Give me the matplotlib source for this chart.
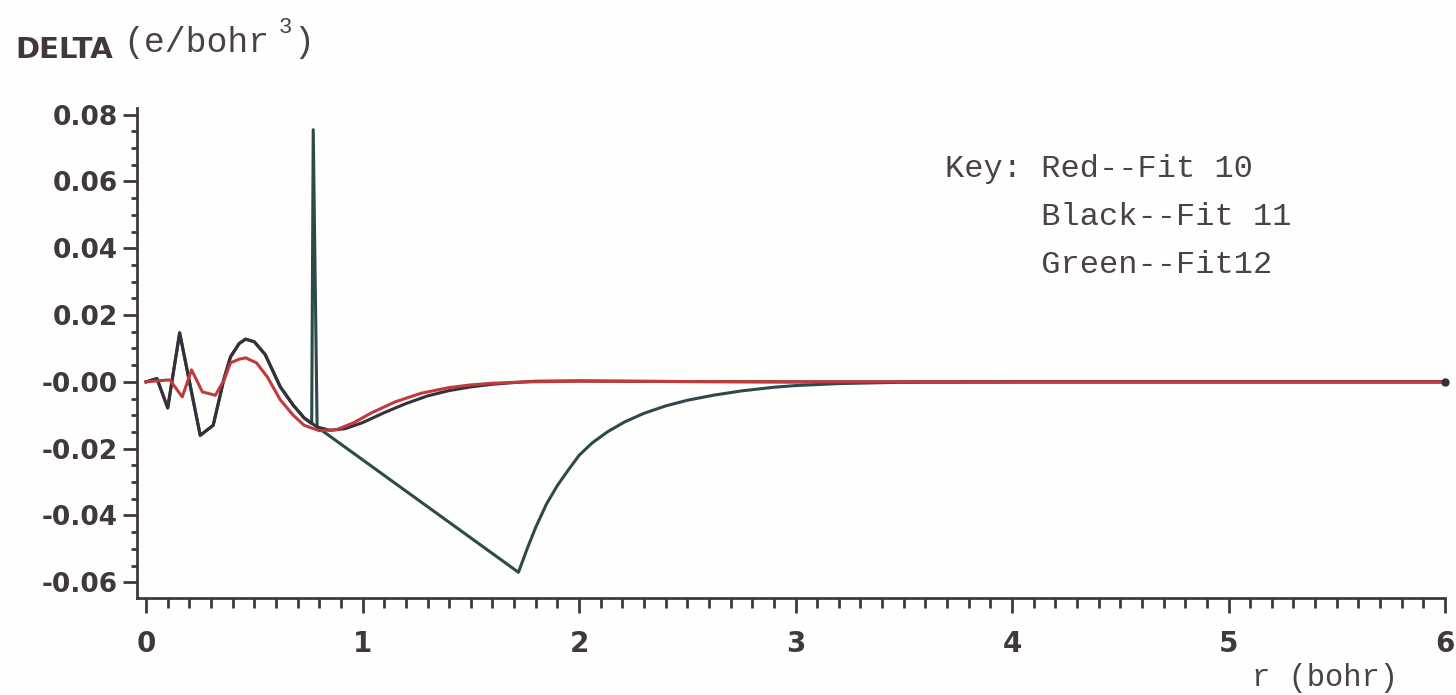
import matplotlib
matplotlib.use("Agg")
import matplotlib.pyplot as plt
from matplotlib.ticker import MultipleLocator, FixedLocator, FixedFormatter

W, H = 1456, 695

# ---------------- data ----------------
x_red = [0.0, 0.05, 0.11, 0.167, 0.21, 0.26, 0.32, 0.36, 0.39, 0.43, 0.46, 0.51, 0.56,
         0.62, 0.68, 0.73, 0.8, 0.88, 0.96, 1.04, 1.15, 1.27, 1.4, 1.5, 1.6, 1.75,
         2.0, 2.5, 3.0, 4.0, 5.0, 6.0]
y_red = [0.0, 0.0003, 0.0006, -0.0045, 0.0036, -0.003, -0.004, 0.0005, 0.0057, 0.0068,
         0.0072, 0.0057, 0.0015, -0.0054, -0.0100, -0.0130, -0.0146, -0.0143, -0.0122,
         -0.0093, -0.0060, -0.0034, -0.0017, -0.0009, -0.0004, 0.0, 0.0002, 0.0001,
         0.0, 0.0, 0.0, 0.0]

x_black = [0.0, 0.05, 0.1, 0.155, 0.25, 0.31, 0.36, 0.39, 0.43, 0.46, 0.5, 0.55,
           0.62, 0.68, 0.73, 0.79, 0.85, 0.92, 1.0, 1.1, 1.2, 1.3, 1.4, 1.5, 1.6,
           1.7, 1.8, 2.0, 2.5, 3.0, 4.0, 5.0, 6.0]
y_black = [0.0, 0.001, -0.0078, 0.0147, -0.016, -0.013, 0.001, 0.0075, 0.0115,
           0.0128, 0.0120, 0.0082, -0.0015, -0.0070, -0.0108, -0.0135, -0.0145,
           -0.0140, -0.0122, -0.0092, -0.0065, -0.0042, -0.0026, -0.0015, -0.0007,
           -0.0002, 0.0002, 0.0003, 0.0001, 0.0, 0.0, 0.0, 0.0]

x_green = [0.0, 0.05, 0.1, 0.155, 0.25, 0.31, 0.36, 0.39, 0.43, 0.46, 0.5, 0.55,
           0.62, 0.68, 0.73, 0.765, 0.772, 0.79, 1.72, 1.76, 1.80, 1.85, 1.9, 1.95,
           2.0, 2.06, 2.13, 2.21, 2.3, 2.4, 2.5, 2.62, 2.75, 2.9, 3.0, 3.2, 3.5,
           4.0, 5.0, 6.0]
y_green = [0.0, 0.001, -0.0078, 0.0147, -0.016, -0.013, 0.001, 0.0075, 0.0115,
           0.0128, 0.0120, 0.0082, -0.0015, -0.0070, -0.0108, -0.0125, 0.0755,
           -0.0135, -0.0570, -0.0500, -0.0435, -0.0365, -0.0310, -0.0264, -0.0220,
           -0.0183, -0.0150, -0.0120, -0.0094, -0.0072, -0.0055, -0.0040, -0.0027,
           -0.0016, -0.0011, -0.0005, -0.0001, 0.0, 0.0, 0.0]

y_ticks = [0.08, 0.06, 0.04, 0.02, 0.0, -0.02, -0.04, -0.06]
y_ticklabels = ["0.08", "0.06", "0.04", "0.02", "-0.00", "-0.02", "-0.04", "-0.06"]
x_ticks = [0, 1, 2, 3, 4, 5, 6]
x_ticklabels = ["0", "1", "2", "3", "4", "5", "6"]

key_lines = ["Key: Red--Fit 10", "     Black--Fit 11", "     Green--Fit12"]

# ---------------- styling ----------------
INK = "#40383e"
TXT = "#4a4247"
RED = "#c23a3c"
BLACK = "#35303a"
GREEN = "#2c4a49"
BG = "#fefefc"
MONO = ["Liberation Mono", "DejaVu Sans Mono"]

fig = plt.figure(figsize=(W / 100, H / 100), dpi=100, facecolor=BG)
ax = fig.add_axes([137 / W, 97 / H, 1308 / W, 490 / H], facecolor=BG)

ax.plot(x_green, y_green, color=GREEN, lw=2.2, zorder=2)
ax.plot(x_black, y_black, color=BLACK, lw=2.2, zorder=3)
ax.plot(x_red, y_red, color=RED, lw=2.2, zorder=4)
ax.plot([x_black[-1]], [y_black[-1]], "o", color=BLACK, ms=5, zorder=5, clip_on=False)

ax.set_xlim(-0.042, 6.0)
ax.set_ylim(-0.0647, 0.082)

for s in ("top", "right"):
    ax.spines[s].set_visible(False)
for s in ("left", "bottom"):
    ax.spines[s].set_color(INK)
    ax.spines[s].set_linewidth(2.0)

ax.xaxis.set_major_locator(FixedLocator(x_ticks))
ax.xaxis.set_major_formatter(FixedFormatter(x_ticklabels))
ax.xaxis.set_minor_locator(MultipleLocator(0.1))
ax.yaxis.set_major_locator(FixedLocator(y_ticks))
ax.yaxis.set_major_formatter(FixedFormatter(y_ticklabels))
ax.yaxis.set_minor_locator(MultipleLocator(0.005))

ax.tick_params(axis="x", which="major", direction="out", length=11, width=2.0,
               color=INK, pad=12, labelcolor=INK, labelsize=20)
ax.tick_params(axis="x", which="minor", direction="out", length=7, width=2.0, color=INK)
ax.tick_params(axis="y", which="major", direction="out", length=10, width=2.0,
               color=INK, pad=4, labelcolor=INK, labelsize=19)
ax.tick_params(axis="y", which="minor", direction="out", length=4, width=2.0, color=INK)
for lab in ax.get_xticklabels() + ax.get_yticklabels():
    lab.set_fontweight("bold")
    lab.set_fontfamily("DejaVu Sans")


def fx(px):
    return px / W


def fy(py):
    return 1 - py / H


fig.text(fx(15), fy(58), "DELTA", family="DejaVu Sans", weight="bold", size=21,
         color=INK, ha="left", va="baseline")
fig.text(fx(123), fy(52), "(e/bohr", family=MONO, size=25, color=TXT,
         ha="left", va="baseline")
fig.text(fx(279), fy(33), "3", family=MONO, size=16, color=TXT,
         ha="left", va="baseline")
fig.text(fx(293), fy(52), ")", family=MONO, size=25, color=TXT,
         ha="left", va="baseline")

for i, line in enumerate(key_lines):
    fig.text(fx(945), fy(177 + 48 * i), line, family=MONO, size=23, color=TXT,
             ha="left", va="baseline")

fig.text(fx(1252), fy(686), "r (bohr)", family=MONO, size=22, color=TXT,
         ha="left", va="baseline")

fig.savefig("out.png", dpi=100, facecolor=BG)
